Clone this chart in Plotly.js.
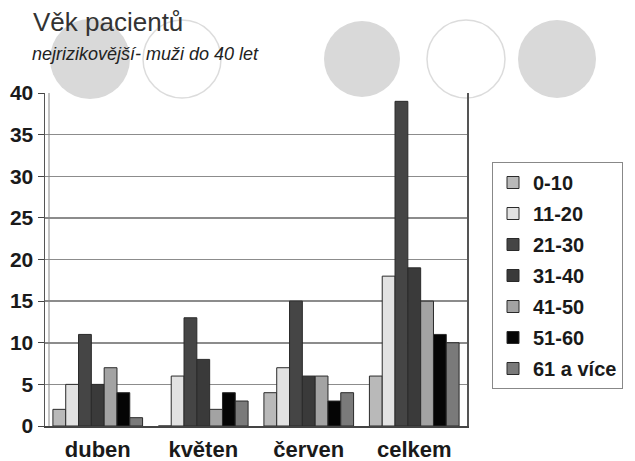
<!DOCTYPE html>
<html><head><meta charset="utf-8">
<script src="https://cdn.plot.ly/plotly-3.0.1.min.js"></script>
<style>html,body{margin:0;padding:0;background:#fff}#c{width:635px;height:461px}</style>
</head><body><div id="c"></div>
<script>
const categories = ["duben", "květen", "červen", "celkem"];
const seriesNames = ["0-10", "11-20", "21-30", "31-40", "41-50", "51-60", "61 a více"];
const v0_10 = [2, 0, 4, 6];
const v11_20 = [5, 6, 7, 18];
const v21_30 = [11, 13, 15, 39];
const v31_40 = [5, 8, 6, 19];
const v41_50 = [7, 2, 6, 15];
const v51_60 = [4, 4, 3, 11];
const v61 = [1, 3, 4, 10];
const yTicks = [0, 5, 10, 15, 20, 25, 30, 35, 40];
const titleText = "Věk pacientů";
const subtitleText = "nejrizikovější- muži do 40 let";

const values = [v0_10, v11_20, v21_30, v31_40, v41_50, v51_60, v61];
const colors = ["#b9b9b9", "#e2e2e2", "#454545", "#3a3a3a", "#a3a3a3", "#050505", "#7a7a7a"];

const traces = values.map((v, i) => ({
  type: "bar", x: categories, y: v, name: seriesNames[i], legendgroup: "g" + i,
  marker: {color: colors[i], line: {color: "#2a2a2a", width: 1}}
}));

const L = 45, R = 467, T = 93, B = 426;
const W = R - L, H = B - T;
function px(x){return (x - L) / W;}
function py(y){return (B - y) / H;}
function circ(cx, cy, r, filled){
  return {type: "circle", xref: "paper", yref: "paper", layer: "below",
    x0: px(cx - r), x1: px(cx + r), y0: py(cy + r), y1: py(cy - r),
    fillcolor: filled ? "#d9d9d9" : "rgba(0,0,0,0)",
    line: {color: filled ? "#d9d9d9" : "#dcdcdc", width: filled ? 0 : 1.5}};
}

const layout = {
  width: 635, height: 461,
  margin: {l: L, r: 635 - R, t: T, b: 461 - B},
  paper_bgcolor: "#ffffff", plot_bgcolor: "rgba(0,0,0,0)",
  font: {family: "Liberation Sans, Arial, sans-serif", color: "#111"},
  barmode: "group", bargap: 0.15, bargroupgap: 0,
  showlegend: true,
  legend: {x: px(492), y: py(162), xanchor: "left", yanchor: "top",
    bgcolor: "#ffffff", bordercolor: "#888", borderwidth: 1,
    font: {size: 20, weight: "bold", color: "#1a1a1a"},
    traceorder: "grouped", tracegroupgap: 2, itemwidth: 30, entrywidth: 110},
  xaxis: {showline: true, linecolor: "#444", linewidth: 1.5, ticks: "", ticklabelstandoff: 3,
    tickfont: {size: 22, weight: "bold", color: "#1a1a1a"}, mirror: false},
  yaxis: {range: [0, 40], tickvals: yTicks, ticks: "outside", ticklen: 6, tickcolor: "#444",
    showline: true, linecolor: "#555", linewidth: 1.5, mirror: true,
    showgrid: true, gridcolor: "#8c8c8c", gridwidth: 1.5,
    tickfont: {size: 21, weight: "bold", color: "#1a1a1a"}, zeroline: false},
  shapes: [
    circ(90, 59, 40, true), circ(182, 59, 39, false), circ(362, 59, 38, true),
    circ(466, 59, 39, false), circ(557, 59, 39, true),
    {type: "line", xref: "paper", yref: "paper", x0: px(49), x1: px(49), y0: 0, y1: 1, line: {color: "#888", width: 1}}
  ],
  annotations: [
    {text: titleText, xref: "paper", yref: "paper", x: px(31), y: py(39), xanchor: "left", yanchor: "bottom",
      showarrow: false, font: {size: 26, color: "#333"}},
    {text: "<i>" + subtitleText + "</i>", xref: "paper", yref: "paper", x: px(30), y: py(66), xanchor: "left", yanchor: "bottom",
      showarrow: false, font: {size: 18, color: "#222"}}
  ]
};
Plotly.newPlot("c", traces, layout, {displayModeBar: false, staticPlot: true});
</script></body></html>
